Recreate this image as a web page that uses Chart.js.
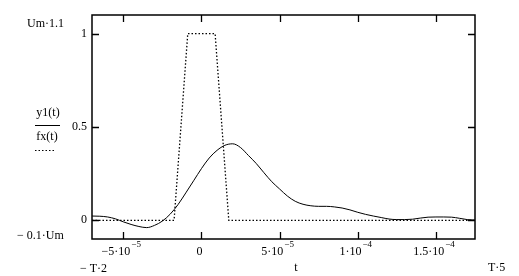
<!DOCTYPE html>
<html>
<head>
<meta charset="utf-8">
<script src="https://cdn.jsdelivr.net/npm/chart.js@4"></script>
<style>
  html, body { margin: 0; padding: 0; background: #fff; }
  #plot { display: block; }
</style>
</head>
<body>
<canvas id="plot" width="519" height="276"></canvas>
<script>
/* time samples, in units of 1e-5 s */
const tSamples = [-7, -6.5, -6, -5.5, -5, -4.5, -4, -3.5, -3, -2.5, -2, -1.5, -1, -0.5, 0,
    0.5, 1, 1.5, 2, 2.5, 3, 3.5, 4, 4.5, 5, 5.5, 6, 6.5, 7, 7.5, 8, 8.5, 9, 9.5, 10,
    10.5, 11, 11.5, 12, 12.5, 13, 13.5, 14, 14.5, 15, 15.5, 16, 16.5, 17, 17.5];
/* y1(t), solid curve */
const y1Values = [0.023, 0.022, 0.018, 0.008, -0.008, -0.022, -0.033, -0.039, -0.027, -0.004,
    0.033, 0.084, 0.147, 0.212, 0.277, 0.334, 0.375, 0.402, 0.41, 0.39, 0.348, 0.305, 0.255,
    0.207, 0.168, 0.13, 0.102, 0.086, 0.078, 0.075, 0.075, 0.072, 0.066, 0.056, 0.043, 0.032,
    0.023, 0.015, 0.007, 0.004, 0.004, 0.006, 0.012, 0.017, 0.018, 0.018, 0.017, 0.011,
    0.004, 0.001];
/* fx(t), dotted trapezoid pulse */
const fxT = [-7, -1.75, -0.875, 0.875, 1.75, 17.5];
const fxValues = [0, 0, 1, 1, 0, 0];

/* axis ticks */
const xTicks = [-5e-5, 0, 5e-5, 1e-4, 1.5e-4];
const xTickBase = ["\u22125\u00b710", "0", "5\u00b710", "1\u00b710", "1.5\u00b710"];
const xTickExp = ["\u22125", "", "\u22125", "\u22124", "\u22124"];
const yTicks = [0, 0.5, 1];
const yTickLabels = ["0", "0.5", "1"];

const tUnit = 1e-5;
const FONT = "12px 'Liberation Serif', 'Times New Roman', serif";
const SUP_FONT = "9px 'Liberation Serif', 'Times New Roman', serif";

const toPoints = (ts, vs) => ts.map((t, i) => ({ x: t * tUnit, y: vs[i] }));

/* Mathcad-like frame, inward ticks and labels */
const mathcadAxes = {
    id: "mathcadAxes",
    afterDraw(chart) {
        const { ctx, chartArea: a } = chart;
        const xs = chart.scales.x, ys = chart.scales.y;
        ctx.save();
        ctx.strokeStyle = "#000";
        ctx.lineWidth = 1.5;
        ctx.strokeRect(a.left, a.top, a.right - a.left, a.bottom - a.top);

        ctx.lineWidth = 1.3;
        ctx.beginPath();
        xTicks.forEach(v => {
            const px = Math.round(xs.getPixelForValue(v)) + 0.5;
            ctx.moveTo(px, a.top); ctx.lineTo(px, a.top + 7);
            ctx.moveTo(px, a.bottom); ctx.lineTo(px, a.bottom - 7);
        });
        yTicks.forEach(v => {
            const py = Math.round(ys.getPixelForValue(v)) + 0.5;
            ctx.moveTo(a.left, py); ctx.lineTo(a.left + 7, py);
            ctx.moveTo(a.right, py); ctx.lineTo(a.right - 7, py);
        });
        ctx.stroke();

        ctx.fillStyle = "#000";
        ctx.textBaseline = "middle";

        // y tick labels
        ctx.font = FONT;
        ctx.textAlign = "right";
        yTicks.forEach((v, i) => {
            ctx.fillText(yTickLabels[i], a.left - 5, ys.getPixelForValue(v));
        });

        // x tick labels with exponents
        ctx.textAlign = "left";
        xTicks.forEach((v, i) => {
            ctx.font = FONT;
            const wb = ctx.measureText(xTickBase[i]).width;
            ctx.font = SUP_FONT;
            const we = xTickExp[i] ? ctx.measureText(xTickExp[i]).width + 1 : 0;
            const x0 = xs.getPixelForValue(v) - (wb + we) / 2 - 2;
            ctx.font = FONT;
            ctx.fillText(xTickBase[i], x0, 252);
            if (xTickExp[i]) {
                ctx.font = SUP_FONT;
                ctx.fillText(xTickExp[i], x0 + wb + 1, 245);
            }
        });

        // range and axis names
        ctx.font = FONT;
        ctx.textAlign = "left";
        ctx.fillText("Um\u00b71.1", 27, 24);
        ctx.fillText("\u2212 0.1\u00b7Um", 17, 236);
        ctx.fillText("\u2212 T\u00b72", 80, 269);
        ctx.fillText("T\u00b75", 488, 268);
        ctx.textAlign = "center";
        ctx.fillText("t", 296, 268);

        // trace names
        ctx.fillText("y1(t)", 48, 113);
        ctx.fillText("fx(t)", 47, 137);
        ctx.lineWidth = 1;
        ctx.beginPath();
        ctx.moveTo(35, 125.5); ctx.lineTo(60, 125.5);
        ctx.stroke();
        ctx.setLineDash([1.5, 2]);
        ctx.beginPath();
        ctx.moveTo(35, 150.5); ctx.lineTo(56, 150.5);
        ctx.stroke();
        ctx.restore();
    }
};

const config = {
    type: "line",
    data: {
        datasets: [
            {
                label: "y1(t)",
                data: toPoints(tSamples, y1Values),
                borderColor: "#000",
                borderWidth: 1,
                pointRadius: 0,
                cubicInterpolationMode: "monotone",
            },
            {
                label: "fx(t)",
                data: toPoints(fxT, fxValues),
                borderColor: "#000",
                borderWidth: 1.3,
                borderDash: [1.5, 2],
                pointRadius: 0,
                tension: 0,
            },
        ],
    },
    options: {
        responsive: false,
        animation: false,
        devicePixelRatio: 1,
        layout: { padding: { left: 92, right: 44, top: 15, bottom: 37 } },
        scales: {
            x: { type: "linear", display: false, min: -7e-5, max: 1.75e-4 },
            y: { type: "linear", display: false, min: -0.1, max: 1.1 },
        },
        plugins: {
            legend: { display: false },
            tooltip: { enabled: false },
        },
    },
    plugins: [mathcadAxes],
};

new Chart(document.getElementById("plot"), config);
</script>
</body>
</html>
